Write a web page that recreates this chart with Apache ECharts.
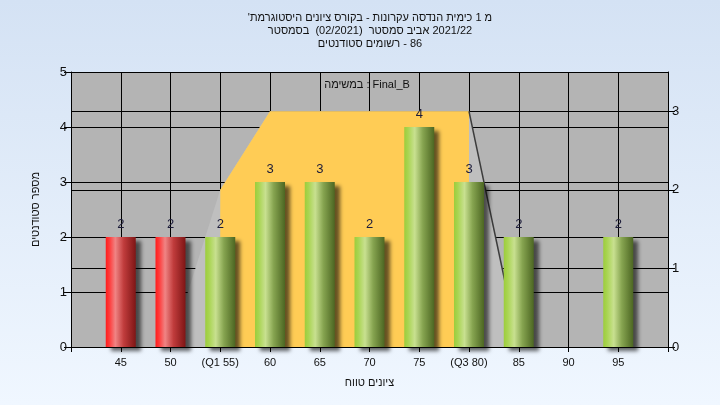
<!DOCTYPE html>
<html>
<head>
<meta charset="utf-8">
<script src="https://cdn.jsdelivr.net/npm/echarts@6/dist/echarts.min.js"></script>
<style>
html,body{margin:0;padding:0;width:720px;height:405px;overflow:hidden;}
#chart{width:720px;height:405px;}
</style>
</head>
<body>
<div id="chart"></div>
<script>
// ---- data ----
const categories = [45, 50, 55, 60, 65, 70, 75, 80, 85, 90, 95];
const tickLabels = ['45', '50', '(Q1 55)', '60', '65', '70', '75', '(Q3 80)', '85', '90', '95'];
const counts = [2, 2, 2, 3, 3, 2, 4, 3, 2, 0, 2];
const barGroup = ['fail', 'fail', 'pass', 'pass', 'pass', 'pass', 'pass', 'pass', 'pass', 'pass', 'pass'];
const curveX = [50, 55, 60, 65, 70, 75, 80, 85];
const curveValues = [0, 2, 3, 3, 3, 3, 3, 0];
const rightTicks = [0, 1, 2, 3];
const q1 = 55, q3 = 80;
// text pieces in the left-to-right order in which they appear on the picture
const titleLine1 = ["'", 'היסטוגרמת', ' ', 'ציונים', ' ', 'בקורס', ' - ', 'עקרונות', ' ', 'הנדסה', ' ', 'כימית', ' 1 ', 'מ'];
const titleLine2 = ['בסמסטר', '  (02/2021)  ', 'סמסטר', ' ', 'אביב', ' 2021/22'];
const titleLine3 = ['סטודנטים', ' ', 'רשומים', ' - 86'];
const legendPieces = ['במשימה', ' : Final_B'];
const xAxisTitlePieces = ['טווח', ' ', 'ציונים'];
const yAxisTitle = 'מספר סטודנטים';

// ---- chart ----
const FONT = "'Liberation Sans', 'DejaVu Sans', sans-serif";
const rich = pieces => pieces.map(p => '{w|' + p + '}').join('');
const chart = echarts.init(document.getElementById('chart'));

const redGrad = new echarts.graphic.LinearGradient(0, 0, 1, 0, [
  {offset: 0, color: '#ff1c1c'}, {offset: 0.12, color: '#ff3a3a'},
  {offset: 0.32, color: '#f08484'}, {offset: 0.6, color: '#c03c3c'},
  {offset: 1, color: '#7e1515'}]);
const greenGrad = new echarts.graphic.LinearGradient(0, 0, 1, 0, [
  {offset: 0, color: '#9ccd3c'}, {offset: 0.12, color: '#a8d450'},
  {offset: 0.35, color: '#c8e090'}, {offset: 0.62, color: '#86a450'},
  {offset: 1, color: '#4c6622'}]);

const barData = [];
categories.forEach((c, i) => {
  if (counts[i] > 0) {
    barData.push({
      value: [c, counts[i]],
      itemStyle: {color: barGroup[i] === 'fail' ? redGrad : greenGrad}
    });
  }
});

const curveAll = curveX.map((x, i) => [x, curveValues[i]]);
const curveBox = curveAll.filter(p => p[0] >= q1 && p[0] <= q3);
const curveTail = curveAll.filter(p => p[0] >= q3);
const richW = {w: {fontSize: 11, color: '#111', fontFamily: FONT, lineHeight: 13}};

chart.setOption({
  backgroundColor: new echarts.graphic.LinearGradient(0, 0, 0, 1, [
    {offset: 0, color: '#d4e2f4'}, {offset: 1, color: '#f0f7ff'}]),
  animation: false,
  textStyle: {fontFamily: FONT},
  title: {
    text: [rich(titleLine1), rich(titleLine2), rich(titleLine3)].join('\n'),
    left: 365, top: 6, textAlign: 'center',
    textStyle: {fontSize: 11, fontWeight: 'normal', color: '#111', lineHeight: 13, fontFamily: FONT, rich: richW}
  },
  graphic: [{
    type: 'text', x: 367, y: 85, z: 100,
    style: {text: rich(legendPieces), font: '11px ' + FONT, fill: '#111', align: 'center', verticalAlign: 'middle',
      rich: richW}
  }],
  grid: {left: 71, right: 52, top: 72, bottom: 58, show: true, backgroundColor: '#b4b4b4', borderWidth: 0},
  xAxis: {
    type: 'value', min: 40, max: 100, interval: 5,
    name: rich(xAxisTitlePieces), nameLocation: 'middle', nameGap: 29,
    nameTextStyle: {fontSize: 11, color: '#111', fontFamily: FONT, rich: richW},
    axisLine: {show: true, lineStyle: {color: '#000', width: 1}},
    axisTick: {show: true, length: 5, lineStyle: {color: '#000'}},
    axisLabel: {
      fontSize: 11, color: '#111', margin: 10, fontFamily: FONT,
      formatter: v => { const i = categories.indexOf(v); return i >= 0 ? tickLabels[i] : ''; }
    },
    splitLine: {show: true, lineStyle: {color: '#000', width: 1}}
  },
  yAxis: [{
    type: 'value', min: 0, max: 5, interval: 1, position: 'left',
    name: yAxisTitle, nameLocation: 'middle', nameGap: 30,
    nameTextStyle: {fontSize: 11, color: '#111', fontFamily: FONT},
    axisLine: {show: true, lineStyle: {color: '#000', width: 1}},
    axisTick: {show: true, length: 7, lineStyle: {color: '#000'}},
    axisLabel: {fontSize: 13, color: '#111', margin: 4, fontFamily: FONT},
    splitLine: {show: true, lineStyle: {color: '#000', width: 1}}
  }, {
    type: 'value', min: 0, max: 3.5, interval: 1, position: 'right',
    axisLine: {show: true, lineStyle: {color: '#000', width: 1}},
    axisTick: {show: true, length: 7, customValues: rightTicks, lineStyle: {color: '#000'}},
    axisLabel: {fontSize: 13, color: '#111', margin: 4, fontFamily: FONT, customValues: rightTicks},
    splitLine: {show: true, lineStyle: {color: '#000', width: 1}}
  }],
  series: [{
    type: 'line', yAxisIndex: 1, data: curveAll, symbol: 'none', z: 1,
    lineStyle: {width: 0, opacity: 0},
    areaStyle: {color: '#bfbfbf', opacity: 1}
  }, {
    type: 'line', yAxisIndex: 1, data: curveBox, symbol: 'none', z: 2,
    lineStyle: {width: 0, opacity: 0},
    areaStyle: {color: '#ffcc55', opacity: 1}
  }, {
    type: 'line', yAxisIndex: 1, data: curveTail, symbol: 'none', z: 3,
    lineStyle: {width: 1.5, color: '#3c3c3c'}
  }, {
    type: 'bar', yAxisIndex: 0, data: barData, barWidth: 30, z: 5,
    itemStyle: {shadowColor: 'rgba(0,0,0,0.6)', shadowBlur: 4, shadowOffsetX: 5, shadowOffsetY: 4},
    label: {show: true, position: 'top', distance: 6, fontSize: 13, color: '#1c1c3a', fontFamily: FONT,
      formatter: p => String(p.value[1])}
  }]
});
</script>
</body>
</html>
